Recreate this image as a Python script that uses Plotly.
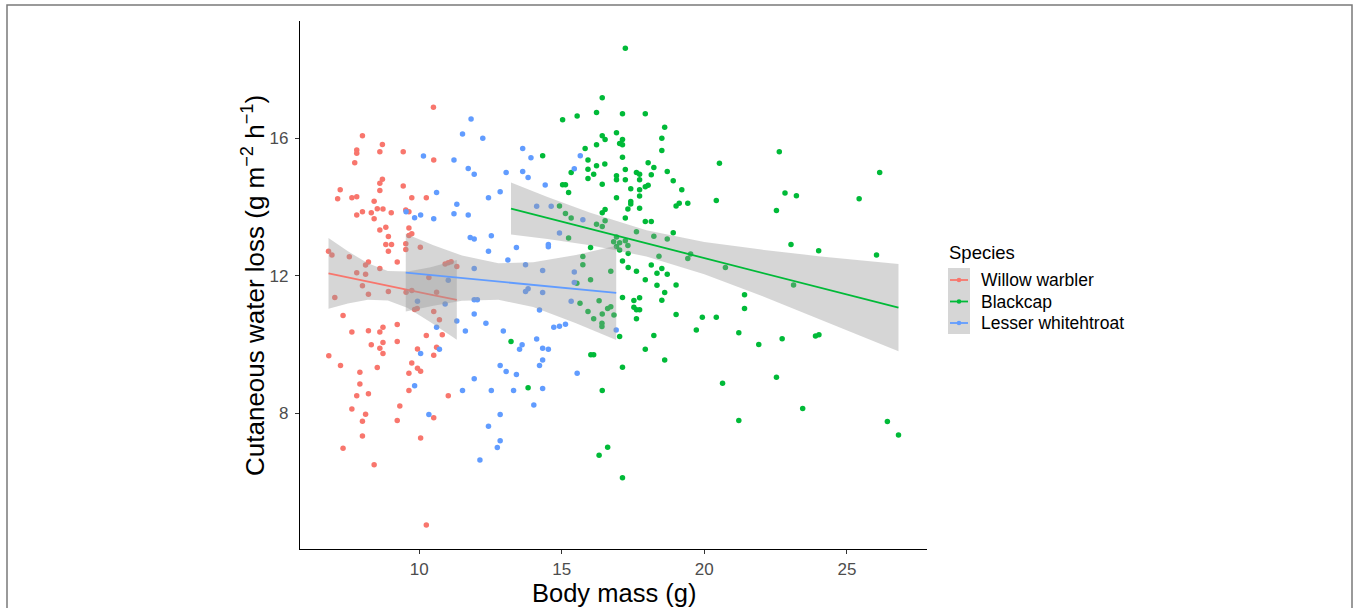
import plotly.graph_objects as go

# ---------------- data ----------------
species = ["Willow warbler", "Blackcap", "Lesser whitehtroat"]
colors = ["#F8766D", "#00BA38", "#619CFF"]

ww_mass = [10.50, 8.01, 8.71, 7.81, 7.81, 8.62, 9.44, 10.51, 7.74, 8.71,
           8.62, 8.62, 9.44, 7.23, 7.14, 7.64, 7.81, 8.42, 9.74, 10.25,
           8.53, 8.73, 8.01, 8.32, 7.81, 9.02, 8.42, 9.53, 9.64, 8.62,
           8.83, 9.64, 8.92, 9.74, 9.64, 8.83, 9.03, 9.53, 10.04, 8.92,
           9.53, 9.23, 6.82, 6.94, 7.55, 8.22, 8.12, 8.62, 10.91, 11.02,
           11.12, 11.32, 7.81, 8.12, 10.34, 8.01, 8.92, 8.22, 9.54, 9.74,
           7.04, 10.61, 9.93, 9.84, 10.51, 10.71, 7.33, 7.64, 8.22, 8.62,
           8.73, 9.23, 10.25, 10.81, 8.32, 8.62, 8.73, 9.23, 8.73, 9.94,
           10.61, 10.51, 6.83, 7.24, 8.53, 9.74, 9.64, 9.94, 10.05, 7.92,
           7.92, 7.81, 8.22, 9.64, 11.02, 7.64, 8.12, 8.01, 9.32, 9.23,
           10.51, 8.01, 10.05, 7.33, 8.42, 10.25]
ww_cwl = [16.90, 16.07, 15.82, 15.66, 15.56, 15.61, 15.61, 15.37, 15.29, 14.81,
          14.69, 14.48, 14.61, 14.50, 14.24, 14.27, 14.30, 14.17, 14.27, 14.27,
          13.95, 13.94, 13.86, 13.83, 13.77, 13.83, 13.66, 13.91, 13.86, 13.33,
          13.41, 13.39, 13.14, 13.22, 13.17, 12.91, 12.91, 12.93, 12.83, 12.71,
          12.76, 12.40, 12.71, 12.60, 12.55, 12.40, 12.31, 12.21, 12.34, 12.38,
          12.41, 12.27, 12.09, 12.04, 11.95, 11.71, 11.54, 11.46, 11.52, 11.57,
          11.37, 11.52, 11.05, 11.02, 10.96, 10.72, 10.84, 10.36, 10.40, 10.36,
          10.50, 10.58, 10.26, 10.28, 9.99, 9.89, 10.06, 10.09, 9.74, 9.87,
          9.92, 9.69, 9.67, 9.39, 9.33, 9.46, 9.16, 9.31, 9.22, 9.19,
          8.85, 8.51, 8.57, 8.66, 8.51, 8.12, 7.97, 7.77, 8.21, 7.79,
          7.87, 7.34, 7.28, 6.98, 6.50, 4.75]

bc_mass = [17.23, 16.42, 15.03, 15.54, 16.22, 17.13, 17.93, 18.61, 16.42, 16.52,
           16.92, 17.13, 17.03, 17.13, 16.22, 15.82, 18.51, 18.51, 14.33, 17.13,
           15.92, 16.51, 16.22, 18.03, 18.23, 15.33, 15.92, 15.92, 16.12, 16.92,
           16.92, 17.23, 17.62, 17.73, 17.73, 17.23, 18.14, 18.70, 18.91, 16.42,
           15.03, 15.13, 15.24, 17.93, 18.03, 17.42, 17.73, 17.73, 19.21, 16.92,
           17.42, 17.42, 17.73, 19.01, 19.12, 19.42, 20.42, 16.42, 16.52, 17.32,
           14.92, 15.13, 15.33, 16.42, 16.22, 16.52, 17.23, 17.93, 18.14, 18.91,
           17.62, 18.23, 18.70, 15.24, 16.92, 16.82, 17.03, 17.23, 17.32, 16.01,
           16.92, 17.03, 19.42, 19.52, 18.41, 20.53, 15.74, 15.74, 17.13, 17.33,
           17.33, 17.62, 18.14, 18.34, 18.51, 18.70, 17.93, 19.01, 18.34, 16.01,
           16.72, 15.53, 17.13, 17.53, 17.73, 18.61, 18.51, 15.64, 16.31, 16.61,
           16.72, 15.92, 16.42, 16.83, 16.12, 17.53, 17.62, 17.73, 17.62, 19.01,
           19.93, 20.42, 19.72, 18.23, 17.03, 16.41, 16.41, 17.93, 18.61, 16.02,
           16.12, 13.22, 13.82, 17.13, 16.42, 16.61, 16.31, 17.13, 22.63, 26.15,
           22.83, 23.23, 25.43, 22.53, 23.04, 24.01, 26.04, 20.74, 23.13, 21.41,
           21.41, 21.21, 21.91, 22.73, 23.90, 24.02, 20.64, 22.53, 23.45, 21.21,
           26.42, 26.81]
bc_cwl = [18.62, 17.18, 16.54, 16.65, 16.75, 16.71, 16.71, 16.32, 16.07, 15.96,
          16.16, 15.96, 15.85, 15.81, 15.81, 15.70, 16.00, 15.64, 15.49, 15.45,
          15.37, 15.25, 15.20, 15.29, 15.15, 15.00, 15.10, 14.83, 14.95, 14.91,
          14.79, 15.09, 15.00, 14.95, 14.79, 14.79, 14.94, 15.03, 14.76, 14.66,
          14.65, 14.65, 14.42, 14.59, 14.63, 14.53, 14.50, 14.32, 14.50, 14.27,
          14.16, 14.09, 13.96, 14.03, 14.11, 14.11, 14.19, 13.83, 13.93, 13.94,
          14.03, 13.81, 13.68, 13.43, 13.50, 13.60, 13.68, 13.58, 13.58, 13.25,
          13.28, 13.15, 13.07, 13.10, 13.13, 12.99, 12.96, 13.02, 12.88, 12.82,
          12.85, 12.75, 12.50, 12.63, 12.57, 15.27, 12.56, 12.32, 12.43, 12.65,
          12.24, 12.13, 12.31, 12.07, 12.21, 12.04, 11.88, 11.73, 11.72, 11.88,
          12.13, 11.78, 11.37, 11.28, 11.36, 11.51, 11.29, 11.20, 11.27, 11.05,
          11.10, 10.96, 10.89, 10.86, 10.75, 11.08, 11.01, 11.01, 10.75, 10.87,
          10.79, 10.79, 10.42, 10.26, 10.23, 10.62, 10.52, 9.86, 9.55, 9.70,
          9.70, 10.09, 8.74, 9.34, 8.66, 7.01, 6.78, 6.12, 15.61, 15.00,
          14.41, 14.33, 14.24, 13.90, 12.91, 12.73, 12.60, 12.24, 11.73, 11.45,
          11.05, 10.34, 10.00, 10.17, 10.25, 10.28, 8.87, 9.05, 8.14, 7.79,
          7.76, 7.37]

lw_mass = [11.82, 11.52, 10.15, 11.22, 11.72, 10.61, 11.32, 9.54, 9.84, 10.05,
           10.51, 11.22, 11.72, 11.79, 11.02, 10.91, 9.94, 11.32, 11.62, 10.61,
           10.71, 10.05, 9.84, 11.52, 10.34, 11.93, 12.23, 12.43, 12.84, 13.05,
           13.63, 13.92, 13.63, 13.82, 14.42, 12.53, 11.93, 12.43, 13.41, 13.11,
           13.73, 11.93, 14.33, 15.44, 14.12, 14.63, 15.74, 14.92, 14.53, 14.53,
           13.82, 13.73, 14.33, 15.44, 15.33, 11.93, 12.04, 11.93, 12.34, 12.95,
           14.22, 14.72, 14.92, 15.13, 14.12, 13.61, 13.52, 14.33, 14.53, 12.84,
           13.05, 13.41, 14.22, 14.33, 15.54, 11.93, 12.53, 13.31, 14.33, 14.02,
           12.84, 12.43, 12.84, 12.74, 12.13, 16.91, 15.65, 15.44]
lw_cwl = [16.56, 16.12, 15.48, 15.37, 15.12, 14.42, 14.08, 13.86, 13.69, 13.77,
          13.66, 13.80, 13.77, 13.11, 11.87, 11.18, 11.26, 10.68, 10.39, 10.50,
          9.86, 9.74, 8.80, 8.66, 7.96, 14.95, 16.00, 14.27, 14.44, 15.00,
          15.70, 15.43, 15.03, 14.86, 14.64, 13.16, 13.07, 12.71, 12.82, 12.46,
          12.32, 12.21, 12.15, 12.11, 14.02, 14.02, 13.63, 13.24, 12.91, 12.84,
          11.62, 11.54, 11.51, 11.80, 11.26, 11.30, 11.30, 10.89, 10.62, 10.39,
          11.00, 10.50, 10.53, 10.59, 10.16, 9.99, 9.86, 9.89, 9.86, 9.39,
          9.21, 9.13, 9.39, 9.55, 9.16, 9.00, 8.66, 8.66, 8.72, 8.24,
          7.96, 7.62, 7.20, 7.00, 6.64, 10.42, 15.49, 15.11]

# fitted lines and confidence bands
ww_fit_x = [6.82, 7.5, 8.2, 8.9, 9.6, 10.4, 11.32]
ww_fit_y = [12.07, 11.95, 11.83, 11.71, 11.59, 11.45, 11.30]
ww_lo = [11.04, 11.19, 11.30, 11.28, 11.06, 10.65, 10.14]
ww_hi = [13.10, 12.71, 12.36, 12.14, 12.12, 12.25, 12.46]

bc_fit_x = [13.22, 14.5, 16.0, 17.97, 20.0, 22.0, 24.0, 26.81]
bc_fit_y = [13.95, 13.68, 13.36, 12.94, 12.51, 12.09, 11.66, 11.07]
bc_lo = [13.20, 13.07, 12.89, 12.56, 12.04, 11.42, 10.75, 9.80]
bc_hi = [14.71, 14.29, 13.83, 13.32, 12.98, 12.76, 12.57, 12.34]

lw_fit_x = [9.53, 10.5, 11.5, 12.78, 14.0, 15.5, 16.91]
lw_fit_y = [12.09, 12.01, 11.93, 11.83, 11.74, 11.61, 11.50]
lw_lo = [10.96, 11.13, 11.27, 11.30, 11.09, 10.62, 10.13]
lw_hi = [13.22, 12.89, 12.59, 12.36, 12.39, 12.60, 12.87]

x_ticks = [10, 15, 20, 25]
y_ticks = [8, 12, 16]

# ---------------- figure ----------------
W, H = 1357, 608
L, R, T, B = 300, 1357 - 927, 21, 608 - 549
PW, PH = W - L - R, H - T - B
FONT = "Liberation Sans, Arial, sans-serif"


def xp(px):
    return (px - L) / PW


def yp(py):
    return (H - B - py) / PH


fig = go.Figure()

points = [(ww_mass, ww_cwl), (bc_mass, bc_cwl), (lw_mass, lw_cwl)]
for (mx, my), name, col in zip(points, species, colors):
    fig.add_trace(go.Scatter(x=mx, y=my, mode="markers", name=name,
                             marker=dict(color=col, size=5.5, line=dict(width=0)),
                             showlegend=False, hoverinfo="x+y"))

fits = [(ww_fit_x, ww_fit_y, ww_lo, ww_hi),
        (bc_fit_x, bc_fit_y, bc_lo, bc_hi),
        (lw_fit_x, lw_fit_y, lw_lo, lw_hi)]
for (fx, fy, lo, hi), name, col in zip(fits, species, colors):
    fig.add_trace(go.Scatter(x=list(fx) + list(fx)[::-1],
                             y=list(hi) + list(lo)[::-1],
                             fill="toself", fillcolor="rgba(153,153,153,0.4)",
                             mode="lines", line=dict(width=0),
                             showlegend=False, hoverinfo="skip"))
    fig.add_trace(go.Scatter(x=fx, y=fy, mode="lines", name=name,
                             line=dict(color=col, width=1.8),
                             showlegend=False))

axis_common = dict(showgrid=False, zeroline=False, showline=True,
                   linecolor="black", linewidth=1.3, ticks="outside",
                   ticklen=4, tickwidth=1.1, tickcolor="#333333",
                   tickfont=dict(family=FONT, size=17, color="#4D4D4D"),
                   mirror=False)

fig.update_layout(
    width=W, height=H,
    margin=dict(l=L, r=R, t=T, b=B, pad=0),
    paper_bgcolor="white", plot_bgcolor="white",
    showlegend=False,
    xaxis=dict(range=[5.82, 27.81], tickvals=x_ticks, **axis_common),
    yaxis=dict(range=[4.05, 19.41], tickvals=y_ticks, ticklabelstandoff=3,
               **axis_common),
)

annotations = [
    dict(text="Body mass (g)", x=0.5, y=yp(592.5), xref="paper", yref="paper",
         showarrow=False, xanchor="center", yanchor="middle",
         font=dict(family=FONT, size=25.5, color="black")),
    dict(text="Cutaneous water loss (g m<sup>\u22122</sup> h<sup>\u22121</sup>)",
         x=xp(253), y=yp(286), xref="paper", yref="paper", textangle=-90,
         showarrow=False, xanchor="center", yanchor="middle",
         font=dict(family=FONT, size=26, color="black")),
    dict(text="Species", x=xp(947), y=yp(252), xref="paper", yref="paper",
         showarrow=False, xanchor="left", yanchor="middle",
         font=dict(family=FONT, size=18.5, color="black")),
]

shapes = [
    # outer frame
    dict(type="rect", xref="paper", yref="paper",
         x0=xp(7), x1=xp(1352), y0=yp(5), y1=yp(640),
         line=dict(color="#7a7a7a", width=1.5), fillcolor="rgba(0,0,0,0)",
         layer="below"),
    # legend key background
    dict(type="rect", xref="paper", yref="paper",
         x0=xp(948), x1=xp(970), y0=yp(334), y1=yp(268),
         line=dict(width=0), fillcolor="#D6D6D6", layer="above"),
]

key_y = [280, 301.5, 323]
for name, col, ky in zip(species, colors, key_y):
    shapes.append(dict(type="line", xref="paper", yref="paper",
                       x0=xp(950), x1=xp(968), y0=yp(ky), y1=yp(ky),
                       line=dict(color=col, width=1.8), layer="above"))
    shapes.append(dict(type="circle", xref="paper", yref="paper",
                       x0=xp(956.7), x1=xp(961.3), y0=yp(ky + 2.3), y1=yp(ky - 2.3),
                       line=dict(width=0), fillcolor=col, layer="above"))
    annotations.append(dict(text=name, x=xp(979), y=yp(ky), xref="paper",
                            yref="paper", showarrow=False, xanchor="left",
                            yanchor="middle",
                            font=dict(family=FONT, size=17.5, color="black")))

fig.update_layout(annotations=annotations, shapes=shapes)

fig.write_html("out.html")
